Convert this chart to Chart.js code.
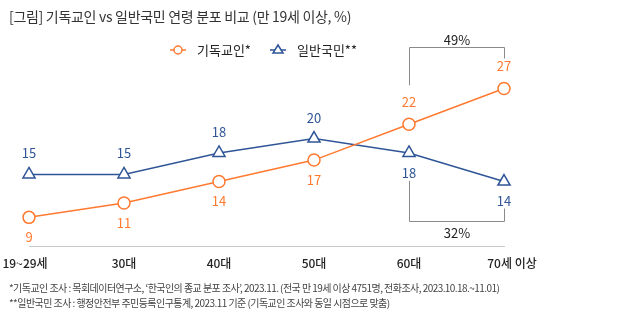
<!DOCTYPE html>
<html>
<head>
<meta charset="utf-8">
<script src="https://cdn.jsdelivr.net/npm/chart.js@4"></script>
<style>
  body { margin: 0; background: #fff; font-family: "Noto Sans CJK KR", "Noto Sans", sans-serif; }
  #wrap { position: relative; width: 639px; height: 326px; }
  #chart { position: absolute; left: 0; top: 0; }
  .title { position: absolute; left: 9px; top: 6px; font-size: 14px; color: #333; letter-spacing: -0.3px; }
  .note { position: absolute; left: 9px; font-size: 10px; color: #444; letter-spacing: -0.55px; }
</style>
</head>
<body>
<div id="wrap">
  <canvas id="chart" width="639" height="326"></canvas>
  <div class="title">[그림] 기독교인 vs 일반국민 연령 분포 비교 (만 19세 이상, %)</div>
  <div class="note" style="top:280px">*기독교인 조사 : 목회데이터연구소, ‘한국인의 종교 분포 조사’, 2023.11. (전국 만 19세 이상 4751명, 전화조사, 2023.10.18.~11.01)</div>
  <div class="note" style="top:295px">**일반국민 조사 : 행정안전부 주민등록인구통계, 2023.11 기준 (기독교인 조사와 동일 시점으로 맞춤)</div>
</div>
<script>
// 데이터
const categories = ["19~29세", "30대", "40대", "50대", "60대", "70세 이상"];
const christians = [9, 11, 14, 17, 22, 27];
const general = [15, 15, 18, 20, 18, 14];
const seriesNames = ["기독교인*", "일반국민**"];
const gapLabels = ["49%", "32%"]; // 60대 이상 비율

const orange = "#ff7a30";
const blue = "#2f5597";
const font = '"Noto Sans CJK KR", "Noto Sans", sans-serif';

// labels, legend, axis and brackets
const decorPlugin = {
  id: "decor",
  afterDatasetsDraw(chart) {
    const ctx = chart.ctx;
    const x = chart.scales.x;
    const y = chart.scales.y;
    const bottom = chart.chartArea.bottom;

    ctx.save();
    // axis line
    ctx.strokeStyle = "#c8c8c8";
    ctx.lineWidth = 1;
    ctx.beginPath();
    ctx.moveTo(x.getPixelForValue(0), bottom + 0.5);
    ctx.lineTo(x.getPixelForValue(categories.length - 1) + 1, bottom + 0.5);
    ctx.stroke();

    // category labels
    ctx.font = "500 12px " + font;
    ctx.fillStyle = "#222";
    ctx.textAlign = "center";
    ctx.textBaseline = "middle";
    categories.forEach((c, i) => {
      let px = x.getPixelForValue(i);
      if (i == 0) px -= 4;
      if (i == categories.length - 1) px += 8;
      ctx.fillText(c, px, bottom + 17);
    });

    // value labels
    ctx.font = "13px " + font;
    christians.forEach((v, i) => {
      const px = x.getPixelForValue(i);
      const py = y.getPixelForValue(v);
      ctx.fillStyle = orange;
      ctx.fillText(v, px, i >= 4 ? py - 22 : py + 20);
    });
    general.forEach((v, i) => {
      const px = x.getPixelForValue(i);
      const py = y.getPixelForValue(v);
      ctx.fillStyle = blue;
      ctx.fillText(v, px, i >= 4 ? py + 20 : py - 21);
    });

    // brackets
    const x4 = Math.round(x.getPixelForValue(4)) + 0.5;
    const x5 = Math.round(x.getPixelForValue(5)) + 0.5;
    ctx.strokeStyle = "#8a8a8a";
    ctx.lineWidth = 1;
    const topY = 47.5;
    ctx.beginPath();
    ctx.moveTo(x4, y.getPixelForValue(christians[4]) - 39);
    ctx.lineTo(x4, topY);
    ctx.lineTo(x5, topY);
    ctx.lineTo(x5, y.getPixelForValue(christians[5]) - 30);
    ctx.stroke();
    const botY = 221.5;
    ctx.beginPath();
    ctx.moveTo(x4, y.getPixelForValue(general[4]) + 28);
    ctx.lineTo(x4, botY);
    ctx.lineTo(x5, botY);
    ctx.lineTo(x5, y.getPixelForValue(general[5]) + 27);
    ctx.stroke();
    ctx.fillStyle = "#222";
    ctx.font = "13px " + font;
    ctx.fillText(gapLabels[0], (x4 + x5) / 2, topY - 7);
    ctx.fillText(gapLabels[1], (x4 + x5) / 2, botY + 12);

    // legend
    const items = [
      { name: seriesNames[0], color: orange, style: "circle", lx: 178 },
      { name: seriesNames[1], color: blue, style: "triangle", lx: 278 }
    ];
    const ly = 50;
    items.forEach(it => {
      ctx.strokeStyle = it.color;
      ctx.lineWidth = 1.5;
      ctx.beginPath();
      ctx.moveTo(it.lx - 8, ly);
      ctx.lineTo(it.lx + 8, ly);
      ctx.stroke();
      ctx.fillStyle = "#fff";
      ctx.beginPath();
      if (it.style == "circle") {
        ctx.arc(it.lx, ly, 4, 0, Math.PI * 2);
      } else {
        ctx.moveTo(it.lx, ly - 5);
        ctx.lineTo(it.lx + 5, ly + 3);
        ctx.lineTo(it.lx - 5, ly + 3);
        ctx.closePath();
      }
      ctx.fill();
      ctx.stroke();
      ctx.fillStyle = "#222";
      ctx.textAlign = "left";
      ctx.font = "13px " + font;
      ctx.fillText(it.name, it.lx + 19, ly);
    });
    ctx.restore();
  }
};

new Chart(document.getElementById("chart"), {
  type: "line",
  data: {
    labels: categories,
    datasets: [
      {
        label: seriesNames[0],
        data: christians,
        borderColor: orange,
        backgroundColor: "#fff",
        borderWidth: 1.5,
        pointStyle: "circle",
        pointRadius: 6,
        pointBorderWidth: 1.5,
        tension: 0
      },
      {
        label: seriesNames[1],
        data: general,
        borderColor: blue,
        backgroundColor: "#fff",
        borderWidth: 1.5,
        pointStyle: "triangle",
        pointRadius: 7,
        pointBorderWidth: 1.5,
        tension: 0
      }
    ]
  },
  options: {
    responsive: false,
    animation: false,
    layout: { padding: { left: 29, right: 135, top: 67, bottom: 80 } },
    scales: {
      x: { display: false, offset: false },
      y: { display: false, min: 5, max: 30 }
    },
    plugins: {
      legend: { display: false },
      tooltip: { enabled: false }
    }
  },
  plugins: [decorPlugin]
});
</script>
</body>
</html>
